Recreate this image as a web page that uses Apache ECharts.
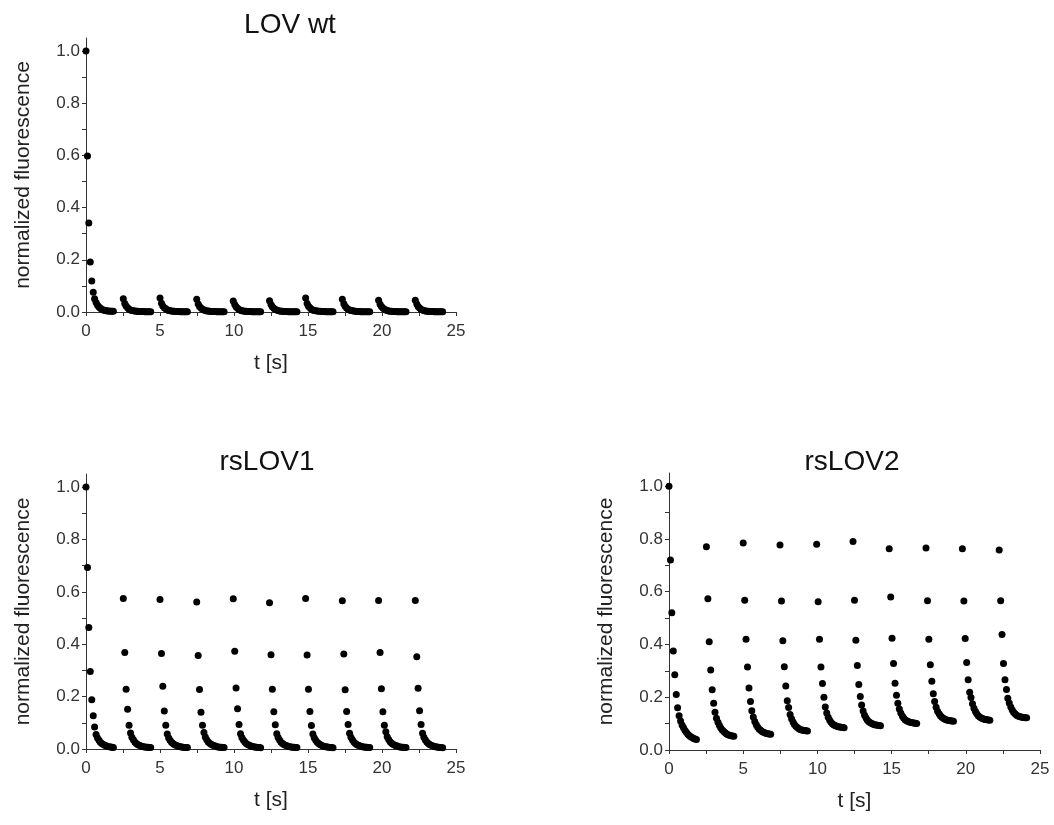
<!DOCTYPE html>
<html>
<head>
<meta charset="utf-8">
<title>LOV fluorescence switching</title>
<script src="https://cdn.jsdelivr.net/npm/echarts@6/dist/echarts.min.js"></script>
<style>
  html, body { margin: 0; padding: 0; background: #fff; }
  #chart { width: 1054px; height: 825px; }
</style>
</head>
<body>
<div id="chart"></div>
<script>
// time of each sample inside one switching cycle (s)
const sampleOffsets = [0, 0.1, 0.19, 0.29, 0.39, 0.49, 0.58, 0.68, 0.78, 0.88, 0.97, 1.07, 1.17, 1.27, 1.36, 1.46, 1.56, 1.66, 1.75, 1.85]
// start of each of the 10 cycles (s)
const pulseStarts = [0, 2.52, 5.0, 7.48, 9.95, 12.4, 14.84, 17.32, 19.77, 22.25]

// normalized fluorescence, one row per cycle
const lovWt = [
  [1.0, 0.598, 0.341, 0.192, 0.119, 0.076, 0.051, 0.036, 0.026, 0.019, 0.014, 0.011, 0.008, 0.006, 0.005, 0.004, 0.004, 0.003, 0.003, 0.003],
  [0.051, 0.033, 0.023, 0.016, 0.011, 0.008, 0.006, 0.005, 0.004, 0.003, 0.003, 0.002, 0.002, 0.002, 0.002, 0.001, 0.001, 0.001, 0.001, 0.001],
  [0.054, 0.034, 0.023, 0.016, 0.012, 0.009, 0.006, 0.005, 0.004, 0.003, 0.003, 0.002, 0.002, 0.002, 0.001, 0.001, 0.001, 0.001, 0.001, 0.001],
  [0.049, 0.031, 0.021, 0.015, 0.011, 0.008, 0.006, 0.004, 0.004, 0.003, 0.002, 0.002, 0.002, 0.002, 0.001, 0.001, 0.001, 0.001, 0.001, 0.001],
  [0.042, 0.029, 0.02, 0.014, 0.01, 0.007, 0.005, 0.004, 0.003, 0.003, 0.002, 0.002, 0.002, 0.001, 0.001, 0.001, 0.001, 0.001, 0.001, 0.001],
  [0.043, 0.029, 0.02, 0.014, 0.01, 0.008, 0.006, 0.004, 0.003, 0.003, 0.002, 0.002, 0.002, 0.001, 0.001, 0.001, 0.001, 0.001, 0.001, 0.001],
  [0.054, 0.033, 0.022, 0.016, 0.011, 0.008, 0.006, 0.005, 0.004, 0.003, 0.003, 0.002, 0.002, 0.002, 0.001, 0.001, 0.001, 0.001, 0.001, 0.001],
  [0.049, 0.032, 0.022, 0.015, 0.011, 0.008, 0.006, 0.005, 0.004, 0.003, 0.002, 0.002, 0.002, 0.001, 0.001, 0.001, 0.001, 0.001, 0.001, 0.001],
  [0.045, 0.03, 0.021, 0.015, 0.011, 0.008, 0.006, 0.004, 0.003, 0.003, 0.002, 0.002, 0.002, 0.001, 0.001, 0.001, 0.001, 0.001, 0.001, 0.001],
  [0.045, 0.031, 0.021, 0.015, 0.01, 0.008, 0.006, 0.004, 0.003, 0.003, 0.002, 0.002, 0.002, 0.001, 0.001, 0.001, 0.001, 0.001, 0.001, 0.001]
]

const rsLov1 = [
  [1.0, 0.693, 0.464, 0.296, 0.188, 0.127, 0.084, 0.055, 0.042, 0.033, 0.026, 0.021, 0.017, 0.014, 0.012, 0.01, 0.009, 0.008, 0.007, 0.006],
  [0.575, 0.368, 0.228, 0.152, 0.091, 0.061, 0.045, 0.035, 0.027, 0.021, 0.017, 0.014, 0.012, 0.01, 0.009, 0.008, 0.007, 0.007, 0.006, 0.006],
  [0.571, 0.365, 0.24, 0.145, 0.091, 0.057, 0.043, 0.033, 0.026, 0.021, 0.017, 0.014, 0.012, 0.01, 0.009, 0.008, 0.007, 0.006, 0.006, 0.006],
  [0.561, 0.357, 0.227, 0.14, 0.091, 0.063, 0.046, 0.035, 0.027, 0.022, 0.018, 0.015, 0.012, 0.011, 0.009, 0.008, 0.007, 0.007, 0.006, 0.006],
  [0.574, 0.373, 0.233, 0.154, 0.094, 0.058, 0.044, 0.034, 0.027, 0.021, 0.017, 0.014, 0.012, 0.01, 0.009, 0.008, 0.007, 0.006, 0.006, 0.005],
  [0.558, 0.36, 0.228, 0.142, 0.093, 0.058, 0.044, 0.034, 0.026, 0.021, 0.017, 0.014, 0.012, 0.01, 0.009, 0.008, 0.007, 0.007, 0.006, 0.006],
  [0.575, 0.359, 0.228, 0.143, 0.09, 0.057, 0.043, 0.033, 0.026, 0.021, 0.017, 0.014, 0.011, 0.01, 0.009, 0.008, 0.007, 0.006, 0.006, 0.005],
  [0.566, 0.363, 0.226, 0.143, 0.094, 0.06, 0.045, 0.035, 0.027, 0.021, 0.017, 0.014, 0.012, 0.01, 0.009, 0.008, 0.007, 0.007, 0.006, 0.006],
  [0.567, 0.368, 0.23, 0.142, 0.091, 0.066, 0.047, 0.036, 0.028, 0.022, 0.018, 0.015, 0.012, 0.011, 0.009, 0.008, 0.007, 0.007, 0.006, 0.006],
  [0.567, 0.352, 0.232, 0.146, 0.094, 0.06, 0.045, 0.034, 0.027, 0.021, 0.017, 0.014, 0.012, 0.01, 0.009, 0.008, 0.007, 0.006, 0.006, 0.005]
]

const rsLov2 = [
  [1.0, 0.72, 0.52, 0.375, 0.285, 0.21, 0.16, 0.13, 0.11, 0.095, 0.085, 0.075, 0.067, 0.06, 0.055, 0.05, 0.047, 0.044, 0.042, 0.04],
  [0.77, 0.573, 0.41, 0.303, 0.228, 0.177, 0.143, 0.12, 0.105, 0.093, 0.083, 0.076, 0.07, 0.065, 0.061, 0.058, 0.056, 0.054, 0.053, 0.052],
  [0.785, 0.568, 0.42, 0.315, 0.235, 0.184, 0.149, 0.125, 0.108, 0.096, 0.087, 0.08, 0.075, 0.07, 0.067, 0.065, 0.063, 0.062, 0.061, 0.06],
  [0.777, 0.565, 0.414, 0.316, 0.243, 0.187, 0.161, 0.135, 0.118, 0.106, 0.097, 0.09, 0.085, 0.081, 0.078, 0.076, 0.075, 0.074, 0.073, 0.072],
  [0.78, 0.562, 0.42, 0.315, 0.252, 0.2, 0.163, 0.14, 0.124, 0.113, 0.105, 0.099, 0.095, 0.092, 0.09, 0.088, 0.087, 0.086, 0.085, 0.084],
  [0.79, 0.568, 0.416, 0.32, 0.248, 0.203, 0.171, 0.148, 0.132, 0.121, 0.113, 0.107, 0.103, 0.1, 0.098, 0.096, 0.095, 0.094, 0.093, 0.092],
  [0.763, 0.58, 0.424, 0.328, 0.253, 0.208, 0.177, 0.155, 0.14, 0.129, 0.121, 0.115, 0.111, 0.108, 0.106, 0.104, 0.103, 0.102, 0.101, 0.1],
  [0.766, 0.566, 0.42, 0.323, 0.261, 0.213, 0.184, 0.162, 0.147, 0.137, 0.13, 0.124, 0.12, 0.117, 0.115, 0.113, 0.112, 0.111, 0.11, 0.109],
  [0.763, 0.565, 0.423, 0.332, 0.266, 0.219, 0.199, 0.175, 0.158, 0.146, 0.137, 0.13, 0.125, 0.121, 0.119, 0.117, 0.116, 0.115, 0.114, 0.113],
  [0.758, 0.566, 0.438, 0.328, 0.266, 0.229, 0.196, 0.178, 0.163, 0.152, 0.143, 0.137, 0.132, 0.129, 0.127, 0.125, 0.124, 0.123, 0.122, 0.122]
]

const panelTitles = ['LOV wt', 'rsLOV1', 'rsLOV2']
const xTickValues = [0, 2.5, 5, 7.5, 10, 12.5, 15, 17.5, 20, 22.5, 25]
const yTickValues = [0, 0.1, 0.2, 0.3, 0.4, 0.5, 0.6, 0.7, 0.8, 0.9, 1.0]
const yLabelValues = [0, 0.2, 0.4, 0.6, 0.8, 1.0]

const FONT = 'Liberation Sans'

// pairs every reading with its time
function toPoints(cycles) {
  const points = []
  cycles.forEach((row, k) => {
    row.forEach((v, i) => {
      points.push([pulseStarts[k] + sampleOffsets[i], v])
    })
  })
  return points
}

function makeXAxis(gridIndex) {
  return {
    type: 'value',
    gridIndex: gridIndex,
    min: 0,
    max: 25,
    interval: 5,
    name: 't [s]',
    nameLocation: 'middle',
    nameGap: 41,
    nameTextStyle: { fontFamily: FONT, fontSize: 21, color: '#222' },
    axisLine: { show: true, onZero: false, lineStyle: { color: '#333', width: 1 } },
    axisTick: { show: true, inside: false, length: 4, customValues: xTickValues, lineStyle: { color: '#333' } },
    axisLabel: { fontFamily: FONT, fontSize: 17, color: '#333', margin: 11 },
    splitLine: { show: false }
  }
}

function makeYAxis(gridIndex) {
  return {
    type: 'value',
    gridIndex: gridIndex,
    min: 0,
    max: 1.05,
    name: 'normalized fluorescence',
    nameLocation: 'middle',
    nameGap: 52,
    nameTextStyle: { fontFamily: FONT, fontSize: 21, color: '#222' },
    axisLine: { show: true, onZero: false, lineStyle: { color: '#333', width: 1 } },
    axisTick: { show: true, inside: false, length: 4, customValues: yTickValues, lineStyle: { color: '#333' } },
    axisLabel: {
      fontFamily: FONT,
      fontSize: 17,
      color: '#333',
      margin: 6,
      customValues: yLabelValues,
      formatter: v => v.toFixed(1)
    },
    splitLine: { show: false }
  }
}

function initChart() {
  const chart = echarts.init(document.getElementById('chart'))
  const datasets = [lovWt, rsLov1, rsLov2]
  const titlePos = [[290, 25], [267, 462], [852, 462]]

  chart.setOption({
    animation: false,
    backgroundColor: '#fff',
    grid: [
      { left: 86, top: 38, width: 370, height: 274 },
      { left: 86, top: 474, width: 370, height: 275 },
      { left: 669, top: 473, width: 371, height: 277 }
    ],
    graphic: panelTitles.map((t, i) => ({
      type: 'text',
      x: titlePos[i][0],
      y: titlePos[i][1],
      style: {
        text: t,
        fill: '#111',
        font: '28px "' + FONT + '"',
        align: 'center',
        verticalAlign: 'middle'
      }
    })),
    xAxis: [0, 1, 2].map(makeXAxis),
    yAxis: [0, 1, 2].map(makeYAxis),
    series: datasets.map((d, i) => ({
      type: 'scatter',
      name: panelTitles[i],
      xAxisIndex: i,
      yAxisIndex: i,
      symbol: 'circle',
      symbolSize: 7,
      itemStyle: { color: '#000', opacity: 1 },
      data: toPoints(d)
    }))
  })
}

initChart()
</script>
</body>
</html>
